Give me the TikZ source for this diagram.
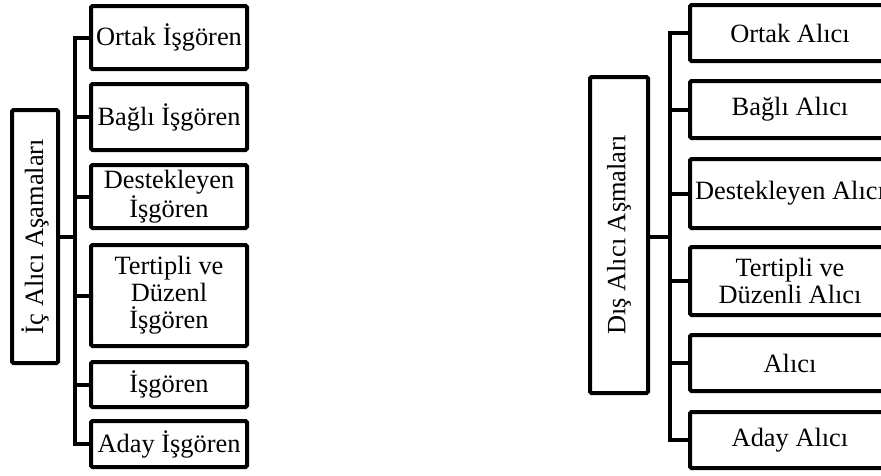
\documentclass[tikz,border=0pt]{standalone}
\usepackage{fontspec}
\setmainfont{Liberation Serif}
\begin{document}
\begin{tikzpicture}[x=1pt,y=-1pt,
  every node/.style={font=\fontsize{26.4}{27}\selectfont, inner sep=0pt, align=center},
  stage/.style={draw, line width=4pt, rounded corners=1.5pt},
  link/.style={line width=4pt, line join=miter}]
\useasboundingbox (0,0) rectangle (881,475);
\clip (0,0) rectangle (881,475);

% Internal buyer stages
\node[stage, rotate=90, minimum width=253, minimum height=46] (Lroot) at (35,236.5) {İç Alıcı Aşamaları};
\node[stage, minimum width=156, minimum height=63] (L1) at (169,37.5) {Ortak İşgören};
\node[stage, minimum width=156, minimum height=66] (L2) at (169,117) {Bağlı İşgören};
\node[stage, minimum width=156, minimum height=63] (L3) at (169,196.5) {Destekleyen\\İşgören};
\node[stage, minimum width=156, minimum height=101] (L4) at (169,295.5) {Tertipli ve\\Düzenl\\İşgören};
\node[stage, minimum width=156, minimum height=45] (L5) at (169,384.5) {İşgören};
\node[stage, minimum width=156, minimum height=46] (L6) at (169,444) {Aday İşgören};
\coordinate (Ltrunk) at (75,236.5);

\draw[link] (L1.west) -| (Ltrunk) |- (L6.west);
\foreach \n in {L2,L3,L4,L5} \draw[link] (\n.west) -- (\n.west -| Ltrunk);
\draw[link] (Lroot.south) -- (Ltrunk);

% External buyer stages
\node[stage, rotate=90, minimum width=316, minimum height=58] (Rroot) at (619,235) {Dış Alıcı Aşmaları};
\node[stage, minimum width=200, minimum height=56] (R1) at (790,33) {Ortak Alıcı};
\node[stage, minimum width=200, minimum height=57] (R2) at (790,109.5) {Bağlı Alıcı};
\node[stage, minimum width=200, minimum height=69] (R3) at (790,193.5) {Destekleyen Alıcı};
\node[stage, minimum width=200, minimum height=68] (R4) at (790,281) {Tertipli ve\\Düzenli Alıcı};
\node[stage, minimum width=200, minimum height=56] (R5) at (790,363) {Alıcı};
\node[stage, minimum width=200, minimum height=56] (R6) at (790,440) {Aday Alıcı};
\coordinate (Rtrunk) at (670,236.5);

\draw[link] (R1.west) -| (Rtrunk) |- (R6.west);
\foreach \n in {R2,R3,R4,R5} \draw[link] (\n.west) -- (\n.west -| Rtrunk);
\draw[link] (Rroot.south |- Rtrunk) -- (Rtrunk);
\end{tikzpicture}
\end{document}
